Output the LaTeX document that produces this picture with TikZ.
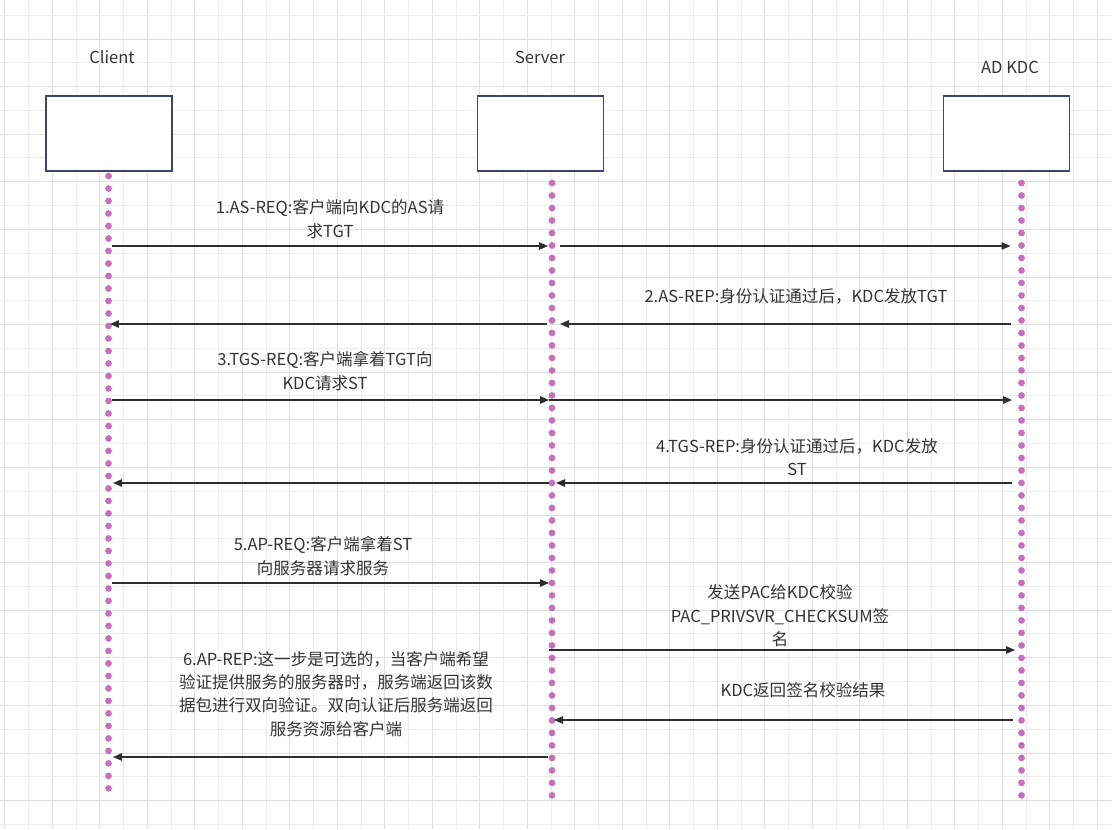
\documentclass[tikz,border=0pt]{standalone}
\usepackage{fontspec}
\setmainfont{Noto Sans CJK SC}
\usepackage{tikz}
\usetikzlibrary{arrows.meta}

\definecolor{gridMinor}{RGB}{237,237,237}
\definecolor{gridMajor}{RGB}{224,224,224}
\definecolor{boxLine}{RGB}{62,70,112}
\definecolor{lifeDot}{RGB}{198,112,188}
\definecolor{textGray}{RGB}{51,51,51}

\begin{document}
\begin{tikzpicture}[
x=0.02cm, y=-0.02cm,
box/.style={draw=boxLine, line width=0.8pt, fill=white, minimum width=2.52cm, minimum height=1.5cm, inner sep=0pt},
title/.style={text=textGray, font=\fontsize{9.4}{13.3}\selectfont},
msg/.style={text=textGray, align=center, font=\fontsize{9.4}{13.3}\selectfont, inner sep=1pt},
life/.style={lifeDot, line width=0.135cm, line cap=round, dash pattern=on 0pt off 0.25cm},
arrow/.style={-{Triangle[length=1.8mm,width=1.5mm]}, line width=0.7pt, black!82}
]
\useasboundingbox (0,0) rectangle (1112,829);
\fill[white] (0,0) rectangle (1112,829);

% background grid
\foreach \k in {0,...,23} {
  \draw[gridMinor, line width=0.5pt] (28.5+\k*47.5,0) -- (28.5+\k*47.5,829);
  \draw[gridMajor, line width=0.5pt] (4.75+\k*47.5,0) -- (4.75+\k*47.5,829);
}
\foreach \k in {0,...,17} {
  \draw[gridMinor, line width=0.5pt] (0,15+\k*47.6) -- (1112,15+\k*47.6);
  \draw[gridMajor, line width=0.5pt] (0,39+\k*47.6) -- (1112,39+\k*47.6);
}

% participants
\node[title] (clientName) at (112,57) {Client};
\node[title] (serverName) at (540,57) {Server};
\node[title] (kdcName) at (1010,67) {AD KDC};
\node[box] (client) at (109,133.5) {};
\node[box] (server) at (540.5,133.5) {};
\node[box] (kdc) at (1006.5,133.5) {};

% lifelines
\coordinate (clTop) at (108.5,176);
\coordinate (clBot) at (108.5,790);
\coordinate (svTop) at (552,183);
\coordinate (svBot) at (552,797);
\coordinate (kdTop) at (1021.5,183);
\coordinate (kdBot) at (1021.5,797);
\draw[life] (clTop) -- (clBot);
\draw[life] (svTop) -- (svBot);
\draw[life] (kdTop) -- (kdBot);

\foreach \n/\y in {a/246, b/324, c/400, d/483, e/583, f/650, g/720, h/757} {
  \coordinate (cl\n) at (108.5,\y);
  \coordinate (sv\n) at (552,\y);
  \coordinate (kd\n) at (1021.5,\y);
}

% messages
\draw[arrow, shorten <=0.07cm, shorten >=0.08cm] (cla) -- (sva);
\draw[arrow, shorten <=0.16cm, shorten >=0.22cm] (sva) -- (kda);
\draw[arrow, shorten <=0.22cm, shorten >=0.16cm] (kdb) -- (svb);
\draw[arrow, shorten <=0.10cm, shorten >=0.03cm] (svb) -- (clb);
\draw[arrow, shorten <=0.07cm, shorten >=0.06cm] (clc) -- (svc);
\draw[arrow, shorten <=-0.06cm, shorten >=0.19cm] (svc) -- (kdc);
\draw[arrow, shorten <=0.19cm, shorten >=0.08cm] (kdd) -- (svd);
\draw[arrow, shorten <=0.06cm, shorten >=0.09cm] (svd) -- (cld);
\draw[arrow, shorten <=0.07cm, shorten >=0.06cm] (cle) -- (sve);
\draw[arrow, shorten <=-0.06cm, shorten >=0.13cm] (svf) -- (kdf);
\draw[arrow, shorten <=0.17cm, shorten >=0.04cm] (kdg) -- (svg);
\draw[arrow, shorten <=0.08cm, shorten >=0.09cm] (svh) -- (clh);

% message labels
\node[msg] (asReq) at (330,219) {1.AS-REQ:客户端向KDC的AS请\\求TGT};
\node[msg] (asRep) at (796,296) {2.AS-REP:身份认证通过后，KDC发放TGT};
\node[msg] (tgsReq) at (325,371) {3.TGS-REQ:客户端拿着TGT向\\KDC请求ST};
\node[msg] (tgsRep) at (797,457) {4.TGS-REP:身份认证通过后，KDC发放\\ST};
\node[msg] (apReq) at (323,556) {5.AP-REQ:客户端拿着ST\\向服务器请求服务};
\node[msg] (pacSend) at (780,616) {发送PAC给KDC校验\\PAC\_PRIVSVR\_CHECKSUM签\\名};
\node[msg] (pacBack) at (803,690) {KDC返回签名校验结果};
\node[msg] (apRep) at (336,694) {6.AP-REP:这一步是可选的，当客户端希望\\验证提供服务的服务器时，服务端返回该数\\据包进行双向验证。双向认证后服务端返回\\服务资源给客户端};
\end{tikzpicture}
\end{document}
